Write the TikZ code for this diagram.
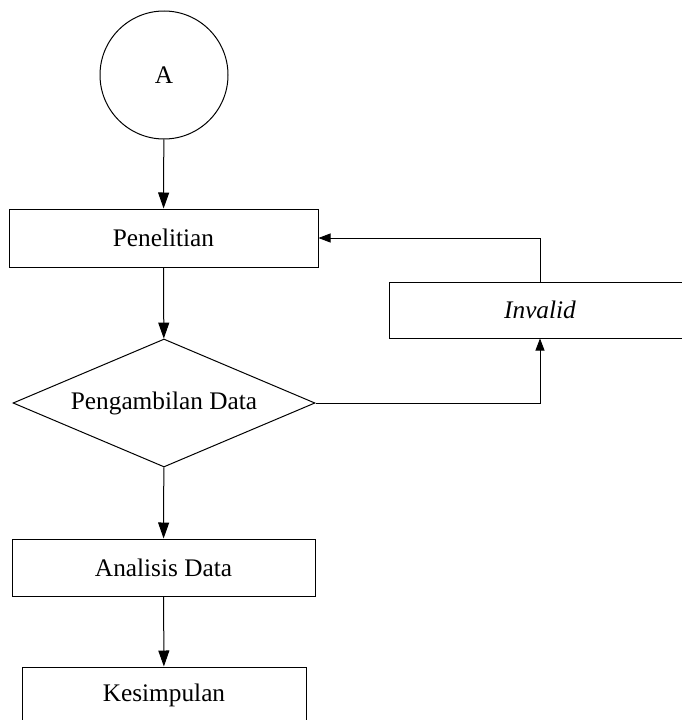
\documentclass[tikz,border=0pt]{standalone}
\usepackage{fontspec}
\setmainfont{Liberation Serif}
\usetikzlibrary{shapes.geometric,arrows.meta}
\begin{document}
\begin{tikzpicture}[x=1pt,y=-1pt,
  every node/.style={font=\fontsize{25.3}{30}\selectfont},
  box/.style={draw,line width=1pt,rectangle,inner sep=0pt},
  conn/.style={line width=1pt,-{Triangle[length=16pt,width=11pt]}},
  loop/.style={line width=0.8pt,-{Triangle[length=12pt,width=9pt]}}]
\useasboundingbox (0,0) rectangle (682,720);
\clip (0,0) rectangle (682,720);
\node[draw,line width=1pt,circle,minimum size=128pt,inner sep=0pt] (A) at (164,75) {A};
\node[box,minimum width=309pt,minimum height=58pt] (P) at (163.5,238) {Penelitian};
\node[draw,line width=1pt,diamond,minimum width=302pt,minimum height=128pt,inner sep=0pt,aspect=2.36] (D) at (164,403) {Pengambilan Data};
\node[box,minimum width=302pt,minimum height=56pt] (I) at (540,310) {\itshape Invalid};
\node[box,minimum width=303pt,minimum height=57pt] (AD) at (163.5,567.5) {Analisis Data};
\node[box,minimum width=284pt,minimum height=57pt] (K) at (164,695.5) {Kesimpulan};
\draw[conn] (A) -- (P);
\draw[conn] (P) -- (D);
\draw[conn] (D) -- (AD);
\draw[conn] (AD) -- (K);
\draw[loop] (D.east) -| (I.south);
\draw[loop] (I.north) |- (P.east);
\end{tikzpicture}
\end{document}
